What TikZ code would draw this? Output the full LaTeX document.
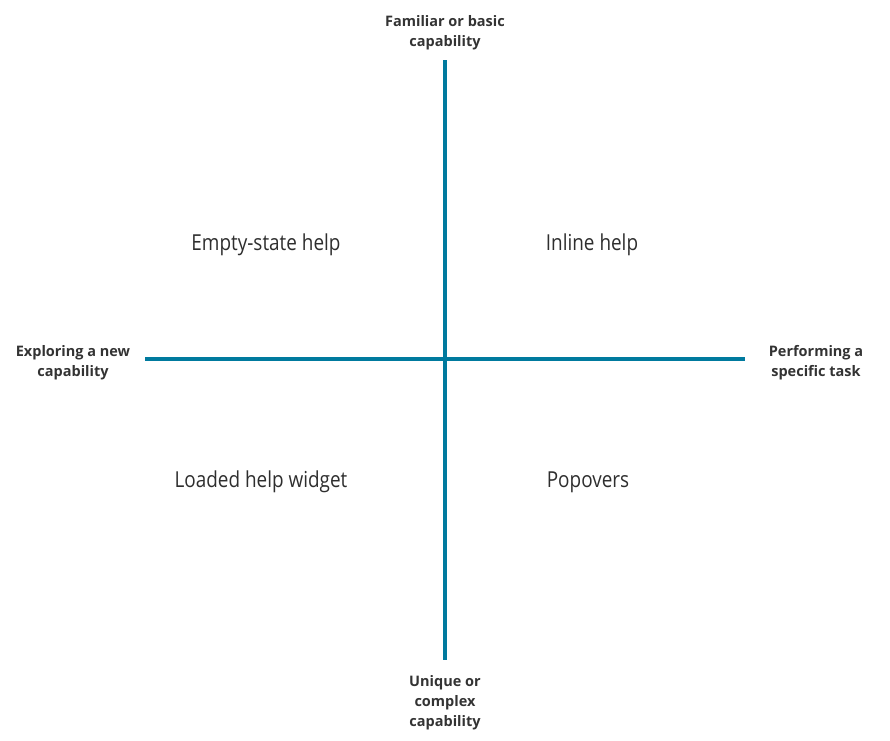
\documentclass[tikz,border=0pt]{standalone}
\usepackage{fontspec}
\setmainfont{Open Sans}
\newfontfamily\quadfont[FakeStretch=0.86]{Open Sans}
\definecolor{axisblue}{RGB}{0,122,158}
\definecolor{labelgray}{RGB}{51,51,51}
\begin{document}
\begin{tikzpicture}[x=1pt,y=-1pt,
  axis/.style={draw=axisblue,line width=3.2pt},
  pole/.style={text=labelgray,font=\fontsize{14.5}{20}\selectfont\bfseries,align=center},
  quad/.style={text=labelgray!90!black,font=\quadfont\fontsize{22}{26}\selectfont}]
\useasboundingbox (0,0) rectangle (890,740);
\coordinate (top) at (445,60);
\coordinate (bottom) at (445,660);
\coordinate (left) at (145,359);
\coordinate (right) at (745,359);
\draw[axis] (top)--(bottom);
\draw[axis] (left)--(right);
\node[pole] (familiar) at (445,33) {Familiar or basic\\capability};
\node[pole] (unique) at (445,703) {Unique or\\complex\\capability};
\node[pole] (exploring) at (73,363) {Exploring a new\\capability};
\node[pole] (performing) at (816,363) {Performing a\\specific task};
\node[quad] (emptystate) at (266,245) {Empty-state help};
\node[quad] (inline) at (592,245) {Inline help};
\node[quad] (loaded) at (261,482) {Loaded help widget};
\node[quad] (popovers) at (588,482) {Popovers};
\end{tikzpicture}
\end{document}
